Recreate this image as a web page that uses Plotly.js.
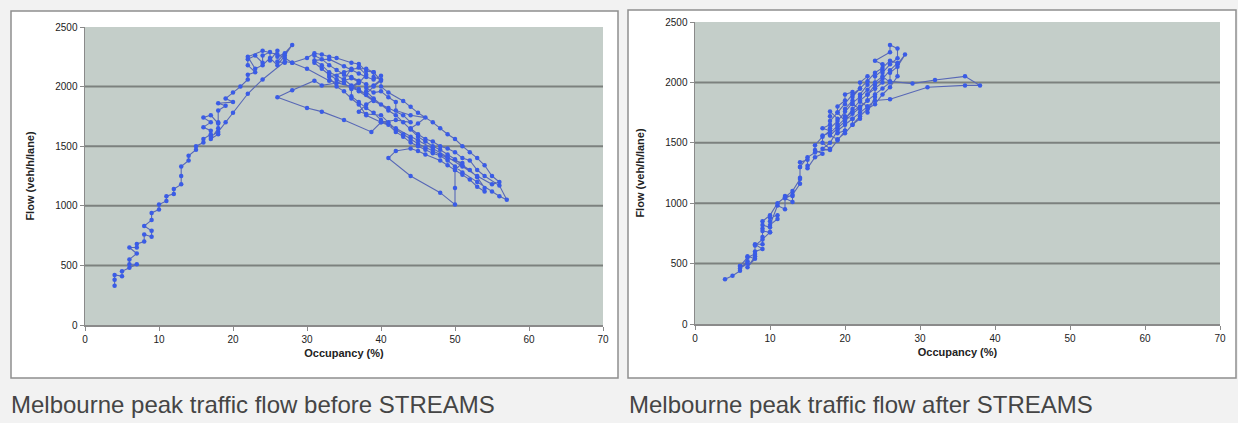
<!DOCTYPE html>
<html>
<head>
<meta charset="utf-8">
<script src="https://cdn.plot.ly/plotly-3.0.1.min.js"></script>
<style>
html,body{margin:0;padding:0;background:#f2f2f2;}
#chart{width:1238px;height:423px;}
</style>
</head>
<body>
<div id="chart"></div>
<script>
// ---- Data: before STREAMS (occupancy %, flow veh/h/lane) ----
var occBefore = [4,4,4,5,5,6,7,6,6,7,6,7,7,8,8,9,9,8,9,9,10,10,11,11,12,12,13,13,13,14,14,15,15,16,16,17,17,16,17,16,17,18,18,17,18,18,18,19,18,20,19,20,21,22,22,23,22,22,23,24,24,25,25,26,26,27,27,26,28,27,26,25,24,23,22,24,26,27,28,
30,31,32,33,34,36,37,38,39,39,40,39,38,39,40,41,42,42,44,46,45,44,45,46,47,48,49,50,51,52,53,54,56,57,56,55,53,51,50,49,48,47,46,45,44,43,42,41,40,39,38,37,36,36,35,34,33,32,31,31,32,33,34,35,36,37,38,38,39,40,41,42,43,44,45,46,47,48,49,50,51,52,53,54,54,53,52,51,50,49,48,46,45,44,42,41,44,48,50,50,50,51,49,48,47,46,45,44,43,42,41,40,38,37,38,39,38,37,36,35,34,33,32,31,33,35,36,37,38,39,40,40,41,43,44,45,47,48,49,50,51,52,53,54,55,56,55,53,51,49,47,45,44,42,40,
38,37,36,35,34,33,35,37,38,37,36,38,39,40,39,38,36,35,37,39,41,43,44,42,40,
38.7,35,32,30,26,28,31,32,34,36,37,36,33,30,28,27,24,22,20,19,18,17];
var flowBefore = [330,380,420,410,450,480,510,510,550,600,650,650,680,700,760,740,790,830,880,940,970,1010,1040,1080,1100,1140,1180,1250,1330,1380,1420,1470,1500,1530,1560,1600,1630,1660,1700,1740,1760,1690,1650,1560,1600,1700,1800,1840,1860,1870,1900,1950,2000,2060,2100,2120,2180,2230,2260,2200,2260,2290,2220,2300,2250,2280,2200,2210,2350,2260,2180,2240,2180,2150,2250,2300,2270,2240,2200,
2240,2280,2270,2250,2240,2200,2190,2130,2120,2080,2060,2010,1990,1950,1960,1910,1870,1800,1760,1740,1690,1650,1600,1560,1540,1500,1480,1450,1400,1380,1300,1250,1170,1050,1080,1120,1200,1280,1330,1380,1420,1440,1470,1500,1530,1580,1620,1680,1720,1780,1820,1870,1920,1980,2030,2060,2100,2150,2200,2260,2230,2180,2140,2100,2080,2050,2020,1960,1900,1850,1800,1760,1700,1640,1580,1540,1500,1470,1430,1390,1340,1300,1240,1150,1120,1160,1220,1260,1300,1340,1380,1430,1460,1480,1460,1400,1250,1110,1010,1150,1300,1360,1400,1430,1460,1490,1520,1560,1600,1640,1700,1760,1770,1790,1850,1890,1930,1980,2010,2060,2090,2120,2180,2220,2230,2170,2140,2110,2080,2060,2090,2000,1950,1880,1830,1780,1700,1650,1600,1560,1500,1450,1400,1340,1250,1200,1180,1250,1330,1410,1480,1550,1580,1650,1700,
1760,1850,1900,1960,2000,2080,2120,2160,2100,2030,1990,1940,2000,2050,2120,2150,2150,2060,1960,1880,1820,1760,1700,1720,1700,
1620,1720,1790,1820,1910,1970,2050,2010,2030,2070,2040,2000,2050,2150,2200,2210,2060,1940,1780,1700,1620,1580];

// ---- Data: after STREAMS ----
var occAfter = [4,5,6,6,7,6,7,7,8,7,8,8,9,8,9,9,9,9,10,10,10,10,11,11,10,11,12,12,13,13,12,13,14,14,14,14,15,15,15,16,17,16,16,17,18,17,18,18,18,19,19,19,20,20,19,19,20,20,21,21,20,20,21,21,22,22,21,21,22,22,23,23,22,22,23,23,24,24,24,25,25,24,26,26,27,27,26,25,25,24,23,23,22,21,20,19,18,19,20,21,22,23,24,25,26,27,27,28,27,26,26,29,32,36,38,36,31,26,24,23,22,21,20,19,18,17,18,19,20,20,21,22,23,24,25,26,27,26,25,24,23,22,21,20,19,18,18,19,20,21,22,23,24,25,26,25,24,23,22,21,20,19,18,17,17,18,16,15,14,14,13,12,11,10,9,9,10,9,8,8,7,6];
var flowAfter = [370,400,440,480,500,460,520,560,540,470,560,600,620,660,660,720,790,820,800,760,850,880,900,870,820,980,950,1060,1060,1010,1040,1070,1160,1210,1300,1340,1360,1310,1290,1380,1410,1440,1480,1550,1600,1620,1650,1720,1760,1700,1650,1580,1600,1680,1750,1800,1850,1900,1920,1850,1780,1720,1700,1650,1700,1780,1820,1880,1950,2000,2050,1980,1900,1840,1800,1750,1880,1950,2050,2100,2150,2180,2250,2310,2280,2200,2150,2080,2000,1950,1900,1850,1790,1740,1680,1620,1560,1530,1580,1650,1720,1780,1820,1900,1960,2050,2150,2230,2130,2080,2010,1990,2020,2050,1975,1975,1960,1860,1850,1800,1750,1700,1650,1600,1500,1450,1440,1520,1600,1700,1780,1850,1900,1980,2030,2100,2160,2180,2120,2080,2010,1950,1900,1820,1750,1680,1620,1680,1760,1830,1880,1940,2000,2050,2000,1950,1900,1850,1800,1760,1700,1640,1580,1560,1500,1450,1420,1380,1300,1200,1100,1050,1000,900,850,770,760,700,650,580,550,480];

// ---- Axes ticks / labels ----
var xTicks = [0,10,20,30,40,50,60,70];
var yTicks = [0,500,1000,1500,2000,2500];
var gridVals = [500,1000,1500,2000];
var xTitle = 'Occupancy (%)';
var yTitle = 'Flow (veh/h/lane)';
var captions = ['Melbourne peak traffic flow before STREAMS','Melbourne peak traffic flow after STREAMS'];

var W = 1238, H = 423;
function px(x){return x/W;}
function py(y){return 1 - y/H;}

var lineStyle = {color:'#5868b6', width:1.1};
var markerStyle = {color:'#3a5ce6', size:4.5};

var traces = [
  {x:occBefore, y:flowBefore, xaxis:'x', yaxis:'y', mode:'lines+markers', line:lineStyle, marker:markerStyle, hoverinfo:'none'},
  {x:occAfter, y:flowAfter, xaxis:'x2', yaxis:'y2', mode:'lines+markers', line:lineStyle, marker:markerStyle, hoverinfo:'none'}
];

var tickFont = {family:'Liberation Sans, Arial, sans-serif', size:10, color:'#222'};
var titleFont = {family:'Liberation Sans, Arial, sans-serif', size:11, color:'#222', weight:'bold'};

function xAxis(domain, anchor){
  return {domain:domain, anchor:anchor, range:[0,70], tickvals:xTicks, ticktext:xTicks.map(String),
    showgrid:false, zeroline:false, showline:true, linecolor:'#8a8a8a', linewidth:1.5,
    ticks:'outside', ticklen:4, tickcolor:'#8a8a8a', tickfont:tickFont, automargin:false,
    title:{text:'<b>'+xTitle+'</b>', font:titleFont, standoff:6}, fixedrange:true};
}
function yAxis(domain, anchor){
  return {domain:domain, anchor:anchor, range:[0,2500], tickvals:yTicks, ticktext:yTicks.map(String),
    showgrid:false, zeroline:false, showline:true, linecolor:'#8a8a8a', linewidth:1.5,
    ticks:'outside', ticklen:4, tickcolor:'#8a8a8a', tickfont:tickFont, automargin:false,
    title:{text:'<b>'+yTitle+'</b>', font:titleFont, standoff:18}, fixedrange:true};
}

var plotBoxes = [
  {x0:85, x1:603, y0:27, y1:325, xa:'x', ya:'y'},
  {x0:695, x1:1220, y0:22, y1:324, xa:'x2', ya:'y2'}
];
var frames = [
  {x0:11, x1:618, y0:11, y1:378},
  {x0:628, x1:1236, y0:10, y1:378}
];

var shapes = [];
frames.forEach(function(f){
  shapes.push({type:'rect', xref:'paper', yref:'paper', x0:px(f.x0), x1:px(f.x1), y0:py(f.y1), y1:py(f.y0),
    fillcolor:'#ffffff', line:{color:'#8f8f8f', width:1.5}, layer:'below'});
});
plotBoxes.forEach(function(b){
  shapes.push({type:'rect', xref:b.xa+' domain', yref:b.ya+' domain', x0:0, x1:1, y0:0, y1:1,
    fillcolor:'#c4cec9', line:{width:0}, layer:'below'});
  gridVals.forEach(function(g){
    shapes.push({type:'line', xref:b.xa+' domain', yref:b.ya, x0:0, x1:1, y0:g, y1:g,
      line:{color:'#7c817e', width:2}, layer:'below'});
  });
});

var capFont = {family:'Liberation Sans, Arial, sans-serif', size:24, color:'#454545'};
var annotations = [
  {text:captions[0], xref:'paper', yref:'paper', x:px(9), y:py(404), xanchor:'left', yanchor:'middle', showarrow:false, font:capFont},
  {text:captions[1], xref:'paper', yref:'paper', x:px(627), y:py(404), xanchor:'left', yanchor:'middle', showarrow:false, font:capFont}
];

var layout = {
  width:W, height:H, margin:{l:0,r:0,t:0,b:0},
  paper_bgcolor:'#f2f2f2', plot_bgcolor:'rgba(0,0,0,0)', showlegend:false,
  xaxis: xAxis([px(85), px(603)], 'y'),
  yaxis: yAxis([py(325), py(27)], 'x'),
  xaxis2: xAxis([px(695), px(1220)], 'y2'),
  yaxis2: yAxis([py(324), py(22)], 'x2'),
  shapes:shapes, annotations:annotations
};

Plotly.newPlot('chart', traces, layout, {displayModeBar:false, staticPlot:true});
</script>
</body>
</html>
